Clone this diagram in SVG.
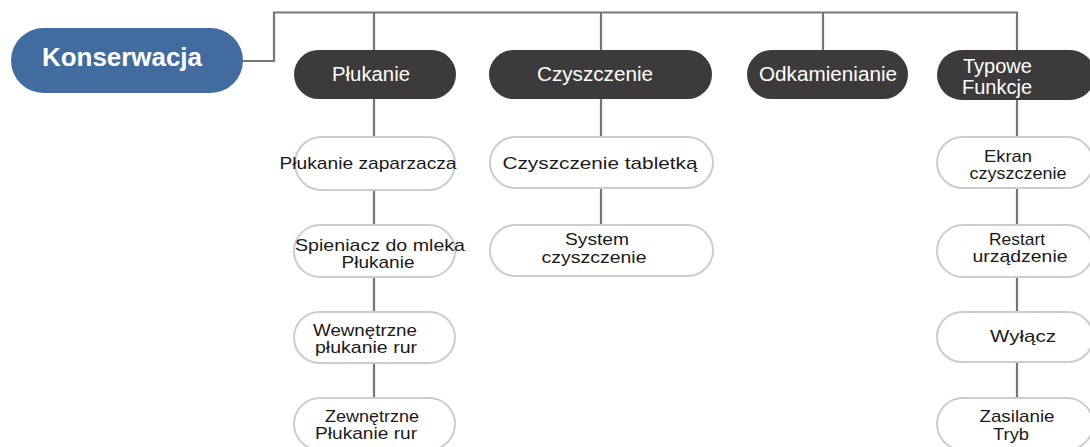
<svg xmlns="http://www.w3.org/2000/svg" width="1090" height="447" viewBox="0 0 1090 447">
<style>
.conn{fill:none;stroke:#767676;stroke-width:2.2}
.root{fill:#426c9f}
.hdr{fill:#3c3a3a}
.leaf{fill:#fff;stroke:#cccccc;stroke-width:2}
.rt{font-family:"Liberation Sans",Arial,sans-serif;font-weight:bold;font-size:25px;fill:#fff;text-anchor:middle}
.ht{font-family:"Liberation Sans",Arial,sans-serif;font-size:20px;fill:#fff;text-anchor:middle}
.lt{font-family:"Liberation Sans",Arial,sans-serif;font-size:17px;fill:#1a1a1a;text-anchor:middle}
</style>
<rect width="1090" height="447" fill="#fff"/>
<g id="connectors">
<path class="conn" d="M243 61 H274 V12.5 H1017 V50"/>
<path class="conn" d="M374 12.5 V137 M374 190 V225 M374 277 V312 M374 363 V398"/>
<path class="conn" d="M601 12.5 V137 M601 188 V225"/>
<path class="conn" d="M823 12.5 V50"/>
<path class="conn" d="M1017 100 V137 M1017 188 V225 M1017 277 V312 M1017 362 V398"/>
</g>
<g id="konserwacja">
<rect class="root" x="11" y="28" width="232" height="65" rx="32.5"/>
<text class="rt" x="122" y="66" textLength="160" lengthAdjust="spacingAndGlyphs">Konserwacja</text>
</g>
<g id="plukanie">
<rect class="hdr" x="294" y="50" width="162" height="49" rx="24.5"/>
<text class="ht" x="371" y="81" textLength="78" lengthAdjust="spacingAndGlyphs">Płukanie</text>
</g>
<g id="czyszczenie">
<rect class="hdr" x="489" y="50" width="223" height="49" rx="24.5"/>
<text class="ht" x="595" y="81" textLength="116" lengthAdjust="spacingAndGlyphs">Czyszczenie</text>
</g>
<g id="odkamienianie">
<rect class="hdr" x="747" y="50" width="161" height="49" rx="24.5"/>
<text class="ht" x="828" y="81" textLength="138" lengthAdjust="spacingAndGlyphs">Odkamienianie</text>
</g>
<g id="typowe-funkcje">
<rect class="hdr" x="937" y="50" width="158" height="50" rx="25"/>
<text class="ht" style="text-anchor:start" x="963" y="73">Typowe</text>
<text class="ht" style="text-anchor:start" x="962" y="94">Funkcje</text>
</g>
<g id="plukanie-zaparzacza">
<rect class="leaf" x="295" y="137" width="160" height="53" rx="26.5"/>
<text class="lt" x="368" y="169" textLength="177" lengthAdjust="spacingAndGlyphs">Płukanie zaparzacza</text>
</g>
<g id="spieniacz">
<rect class="leaf" x="294" y="225" width="161" height="52" rx="26"/>
<text class="lt" x="380" y="251" textLength="170" lengthAdjust="spacingAndGlyphs">Spieniacz do mleka</text>
<text class="lt" x="378" y="268" textLength="73" lengthAdjust="spacingAndGlyphs">Płukanie</text>
</g>
<g id="wewnetrzne">
<rect class="leaf" x="294" y="312" width="161" height="51" rx="25.5"/>
<text class="lt" x="365" y="336" textLength="104" lengthAdjust="spacingAndGlyphs">Wewnętrzne</text>
<text class="lt" x="366" y="353" textLength="102" lengthAdjust="spacingAndGlyphs">płukanie rur</text>
</g>
<g id="zewnetrzne">
<rect class="leaf" x="294" y="398" width="161" height="52" rx="26"/>
<text class="lt" x="372" y="422" textLength="94" lengthAdjust="spacingAndGlyphs">Zewnętrzne</text>
<text class="lt" x="366" y="439" textLength="102" lengthAdjust="spacingAndGlyphs">Płukanie rur</text>
</g>
<g id="czyszczenie-tabletka">
<rect class="leaf" x="490" y="137" width="223" height="51" rx="25.5"/>
<text class="lt" x="600" y="169" textLength="195" lengthAdjust="spacingAndGlyphs">Czyszczenie  tabletką</text>
</g>
<g id="system-czyszczenie">
<rect class="leaf" x="490" y="225" width="223" height="51" rx="25.5"/>
<text class="lt" x="597" y="245" textLength="64" lengthAdjust="spacingAndGlyphs">System</text>
<text class="lt" x="594" y="263" textLength="105" lengthAdjust="spacingAndGlyphs">czyszczenie</text>
</g>
<g id="ekran">
<rect class="leaf" x="937" y="137" width="156" height="51" rx="25.5"/>
<text class="lt" x="1008" y="162" textLength="48" lengthAdjust="spacingAndGlyphs">Ekran</text>
<text class="lt" x="1018" y="179" textLength="97" lengthAdjust="spacingAndGlyphs">czyszczenie</text>
</g>
<g id="restart">
<rect class="leaf" x="937" y="225" width="156" height="52" rx="26"/>
<text class="lt" x="1017" y="245" textLength="56" lengthAdjust="spacingAndGlyphs">Restart</text>
<text class="lt" x="1020" y="262" textLength="95" lengthAdjust="spacingAndGlyphs">urządzenie</text>
</g>
<g id="wylacz">
<rect class="leaf" x="937" y="312" width="156" height="50" rx="25"/>
<text class="lt" x="1023" y="342" textLength="66" lengthAdjust="spacingAndGlyphs">Wyłącz</text>
</g>
<g id="zasilanie">
<rect class="leaf" x="937" y="398" width="156" height="52" rx="26"/>
<text class="lt" x="1017" y="422" textLength="75" lengthAdjust="spacingAndGlyphs">Zasilanie</text>
<text class="lt" x="1011" y="440" textLength="36" lengthAdjust="spacingAndGlyphs">Tryb</text>
</g>
</svg>
